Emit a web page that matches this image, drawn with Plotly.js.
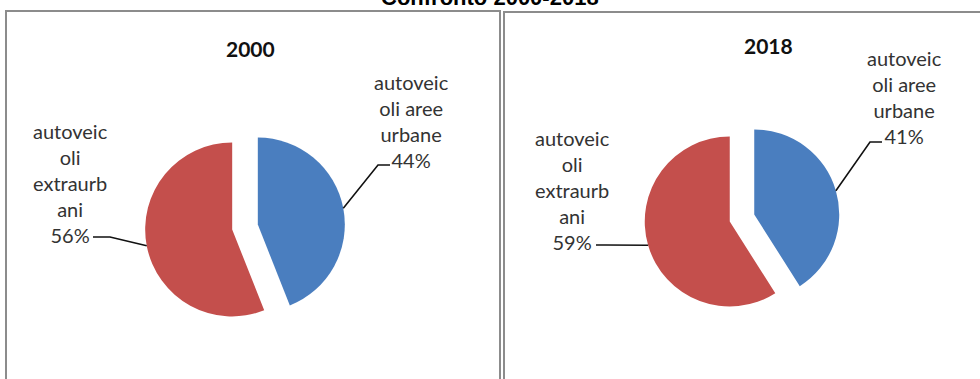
<!DOCTYPE html>
<html>
<head>
<meta charset="utf-8">
<script src="https://cdn.plot.ly/plotly-3.0.1.min.js"></script>
<style>
  html, body { margin: 0; padding: 0; background: #ffffff; }
  #chart { width: 980px; height: 379px; }
</style>
</head>
<body>
<div id="chart"></div>
<script>
// ---- data ----
const years = ['2000', '2018'];
const categories = ['autoveicoli aree urbane', 'autoveicoli extraurbani'];
const categoryLines = [
  ['autoveic', 'oli aree', 'urbane'],
  ['autoveic', 'oli', 'extraurb', 'ani']
];
const values2000 = [44, 56];
const values2018 = [41, 59];
const mainTitle = 'Confronto 2000-2018';

// ---- styling / layout constants ----
const W = 980, H = 379;
const sliceColors = ['#4a7ebf', '#c44f4c'];
const pullFrac = 0.15;
const textFont = 'Lato, "Open Sans", sans-serif';
const textColor = '#333333';

// pie placement in pixels (centre and radius)
const pieBoxes = [
  { cx: 245, cy: 227, r: 87 },
  { cx: 742, cy: 218, r: 85 }
];
// where each slice's label block sits, and the elbow/end of its leader line
const labelPlacement = [
  [ { x: 411, y: 121, elbow: [378, 165], end: [390, 165] },
    { x: 70,  y: 183, elbow: [110, 237], end: [93, 237] } ],
  [ { x: 904, y: 97,  elbow: [870, 142], end: [882, 142] },
    { x: 572, y: 190, elbow: [606, 245], end: [596, 245] } ]
];
const panelTitles = [ { x: 250, y: 48 }, { x: 768, y: 45 } ];

const px = x => x / W;
const py = y => 1 - y / H;

const seriesValues = [values2000, values2018];
const traces = [];
const annotations = [];
const shapes = [];

seriesValues.forEach((vals, k) => {
  const box = pieBoxes[k];
  const half = box.r * (1 + pullFrac);
  traces.push({
    type: 'pie',
    name: years[k],
    labels: categories,
    values: vals,
    sort: false,
    direction: 'clockwise',
    rotation: 0,
    pull: vals.map(() => pullFrac),
    textinfo: 'none',
    hoverinfo: 'label+percent',
    marker: { colors: sliceColors, line: { width: 0 } },
    showlegend: false,
    domain: {
      x: [px(box.cx - half), px(box.cx + half)],
      y: [py(box.cy + half), py(box.cy - half)]
    }
  });

  // labels and leader lines, anchored at each slice's mid-angle on its pulled arc
  const total = vals.reduce((a, b) => a + b, 0);
  let cum = 0;
  vals.forEach((v, i) => {
    const mid = 2 * Math.PI * (cum + v / 2) / total;
    cum += v;
    const dist = box.r * (1 + pullFrac);
    const sx = box.cx + dist * Math.sin(mid);
    const sy = box.cy - dist * Math.cos(mid);
    const lp = labelPlacement[k][i];
    const pct = Math.round(100 * v / total) + '%';

    annotations.push({
      xref: 'paper', yref: 'paper',
      x: px(lp.x), y: py(lp.y),
      xanchor: 'center', yanchor: 'middle',
      showarrow: false,
      align: 'center',
      text: categoryLines[i].concat([pct]).join('<br>'),
      font: { family: textFont, size: 20, color: textColor }
    });

    shapes.push({
      type: 'path', xref: 'paper', yref: 'paper',
      path: 'M ' + px(sx) + ' ' + py(sy) +
            ' L ' + px(lp.elbow[0]) + ' ' + py(lp.elbow[1]) +
            ' L ' + px(lp.end[0]) + ' ' + py(lp.end[1]),
      line: { color: '#111111', width: 1.6 }
    });
  });

  annotations.push({
    xref: 'paper', yref: 'paper',
    x: px(panelTitles[k].x), y: py(panelTitles[k].y),
    xanchor: 'center', yanchor: 'middle',
    showarrow: false,
    text: '<b>' + years[k] + '</b>',
    font: { family: textFont, size: 21, color: '#111111' }
  });
});

// overall heading, partly above the top edge
annotations.push({
  xref: 'paper', yref: 'paper',
  x: px(490), y: py(-3),
  xanchor: 'center', yanchor: 'middle',
  showarrow: false,
  text: '<b>' + mainTitle + '</b>',
  font: { family: '"Liberation Sans", Arial, sans-serif', size: 22, color: '#000000' }
});

// panel frames
shapes.push({
  type: 'rect', xref: 'paper', yref: 'paper',
  x0: px(6), x1: px(500), y0: py(11), y1: py(H + 20),
  line: { color: '#8c8c8c', width: 2 }, fillcolor: 'rgba(0,0,0,0)', layer: 'below'
});
shapes.push({
  type: 'rect', xref: 'paper', yref: 'paper',
  x0: px(504), x1: px(W + 20), y0: py(12), y1: py(H + 20),
  line: { color: '#8c8c8c', width: 2 }, fillcolor: 'rgba(0,0,0,0)', layer: 'below'
});

const layout = {
  width: W, height: H,
  margin: { l: 0, r: 0, t: 0, b: 0 },
  paper_bgcolor: '#ffffff',
  plot_bgcolor: '#ffffff',
  showlegend: false,
  annotations: annotations,
  shapes: shapes
};

Plotly.newPlot('chart', traces, layout, { staticPlot: true, displayModeBar: false });
</script>
</body>
</html>
